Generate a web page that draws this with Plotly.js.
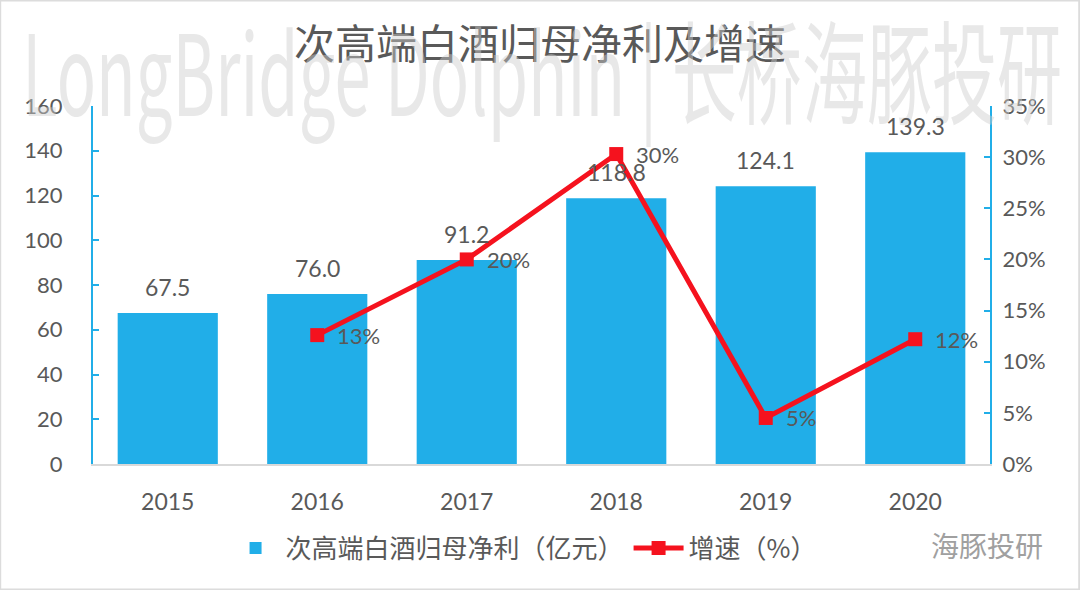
<!DOCTYPE html>
<html><head><meta charset="utf-8">
<script src="https://cdn.plot.ly/plotly-3.0.1.min.js"></script>
<style>html,body{margin:0;padding:0;background:#fff;}#chart{width:1080px;height:590px;}</style>
</head><body><div id="chart"></div>
<script>
const years = ['2015','2016','2017','2018','2019','2020'];
const profit = [67.5, 76.0, 91.2, 118.8, 124.1, 139.3];
const growth = [null, 12.6, 20.0, 30.3, 4.5, 12.2];
const growthLabels = ['', '13%', '20%', '30%', '5%', '12%'];
const leftTicks = [0,20,40,60,80,100,120,140,160];
const rightTicks = [0,5,10,15,20,25,30,35];
const rightTickText = ['0%','5%','10%','15%','20%','25%','30%','35%'];

const FONT = 'Lato, "Noto Sans CJK SC", sans-serif';
const CJK = '"Noto Sans CJK SC", sans-serif';
const GRAY = '#595959';

const traces = [
  {type:'bar', x:years, y:profit, name:'次高端白酒归母净利（亿元）',
   marker:{color:'#21AEE8'}, width:0.67, hoverinfo:'skip'},
  {type:'scatter', mode:'lines+markers', x:years, y:growth, yaxis:'y2',
   name:'增速（%）', line:{color:'#F5121E', width:5},
   marker:{symbol:'square', size:14, color:'#F5121E'}, cliponaxis:false, hoverinfo:'skip'}
];

const annotations = [];
annotations.push({
  xref:'paper', yref:'paper', x:0.5, xanchor:'center', y:1.11, yanchor:'middle',
  text:'LongBridge Dolphin | 长桥海豚投研', showarrow:false,
  font:{size:112, color:'rgba(205,205,205,0.45)', family:CJK}
});
profit.forEach((v,i)=>annotations.push({
  x:i, y:v, xref:'x', yref:'y', text:v.toFixed(1), showarrow:false,
  yshift:26, font:{size:23, color:GRAY, family:FONT}
}));
growth.forEach((v,i)=>{ if(v===null) return; annotations.push({
  x:i, y:v, xref:'x', yref:'y2', text:growthLabels[i], showarrow:false,
  xanchor:'left', xshift:18, yanchor:'middle', font:{size:22, color:GRAY, family:FONT}
});});
annotations.push({
  xref:'paper', yref:'paper', x:1.061, y:-0.226, xanchor:'right', yanchor:'middle',
  text:'海豚投研', showarrow:false,
  font:{size:28, color:'#a0a0a0', family:CJK}
});

const layout = {
  width:1080, height:590,
  paper_bgcolor:'#fff', plot_bgcolor:'rgba(0,0,0,0)',
  margin:{l:93, r:90, t:106, b:126},
  font:{family:FONT, color:GRAY},
  title:{text:'次高端白酒归母净利及增速', x:0.5, xanchor:'center', y:0.925, yanchor:'middle',
         font:{size:41, color:GRAY, family:CJK}},
  xaxis:{type:'category', range:[-0.5,5.5], showgrid:false, zeroline:false,
         showline:true, linecolor:'#d9d9d9', linewidth:2, ticks:'',
         tickfont:{size:23, color:GRAY}, ticklabelstandoff:16},
  yaxis:{range:[0,160], tickvals:leftTicks, showgrid:false, zeroline:false,
         showline:true, linecolor:'#21AEE8', linewidth:2,
         ticks:'inside', ticklen:6, tickcolor:'#21AEE8', tickwidth:2,
         tickfont:{size:22, color:GRAY}, ticklabelstandoff:24},
  yaxis2:{range:[0,35], overlaying:'y', side:'right', tickvals:rightTicks, ticktext:rightTickText,
          showgrid:false, zeroline:false, showline:true, linecolor:'#21AEE8', linewidth:2,
          ticks:'inside', ticklen:6, tickcolor:'#21AEE8', tickwidth:2,
          tickfont:{size:22, color:GRAY}, ticklabelstandoff:6},
  showlegend:true,
  legend:{orientation:'h', x:0.48, xanchor:'center', y:-0.235, yanchor:'middle',
          font:{size:26, color:GRAY, family:CJK},
          itemwidth:50, bgcolor:'rgba(0,0,0,0)'},
  annotations:annotations,
  shapes:[{type:'rect', xref:'paper', yref:'paper', x0:-0.104, x1:1.1, y0:-0.352, y1:1.296,
           line:{color:'#dcdcdc', width:3}, layer:'below'}],
  bargap:0.33
};
Plotly.newPlot('chart', traces, layout, {displayModeBar:false, staticPlot:true}).then(gd=>{
  // squeeze the watermark horizontally to mimic the condensed watermark font
  document.querySelectorAll('#chart .annotation text').forEach(t=>{
    if(t.textContent.indexOf('LongBridge')===0){
      const b=t.getBBox();
      const cx=b.x+b.width/2;
      const s=1040/b.width;
      t.setAttribute('transform','translate('+cx+',0) scale('+s+',1) translate('+(-cx)+',0)');
    }
  });
});
</script></body></html>
